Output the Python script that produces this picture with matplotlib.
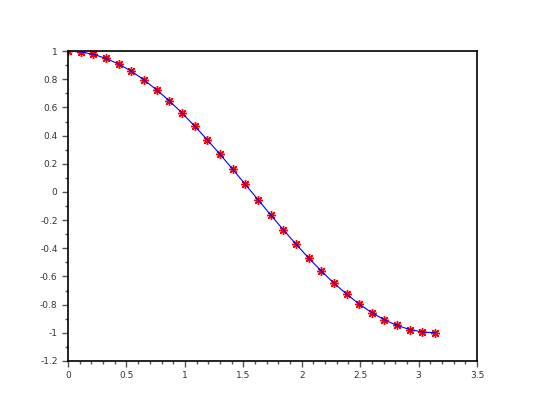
import numpy as np
import matplotlib
matplotlib.use("Agg")
import matplotlib.pyplot as plt
from matplotlib.ticker import MultipleLocator, FuncFormatter

x = [0.000, 0.108, 0.217, 0.325, 0.433, 0.542, 0.650, 0.758, 0.867, 0.975,
     1.083, 1.192, 1.300, 1.408, 1.517, 1.625, 1.733, 1.842, 1.950, 2.058,
     2.167, 2.275, 2.383, 2.492, 2.600, 2.708, 2.817, 2.925, 3.033, 3.142]
y = [1.000, 0.994, 0.977, 0.948, 0.908, 0.857, 0.796, 0.725, 0.647, 0.561,
     0.468, 0.370, 0.268, 0.162, 0.054, -0.054, -0.162, -0.268, -0.370, -0.468,
     -0.561, -0.647, -0.725, -0.796, -0.857, -0.908, -0.948, -0.977, -0.994, -1.000]

fig = plt.figure(figsize=(5.45, 4.11), dpi=100)
ax = fig.add_axes([0.1248, 0.1217, 0.7505, 0.754])

# scilab-style asterisk markers, blue line on top
ax.plot(x, y, ls="none", marker=(8, 2, 0), color="red", ms=6.5, mew=1.0, zorder=2)
ax.plot(x, y, color="blue", lw=0.8, zorder=3)

ax.set_xlim(0, 3.5)
ax.set_ylim(-1.2, 1)
ax.xaxis.set_major_locator(MultipleLocator(0.5))
ax.xaxis.set_minor_locator(MultipleLocator(0.1))
ax.yaxis.set_major_locator(MultipleLocator(0.2))
ax.yaxis.set_minor_locator(MultipleLocator(0.1))
fmt = FuncFormatter(lambda v, p: ("%g" % round(v, 2)).replace("\u2212", "-"))
ax.xaxis.set_major_formatter(fmt)
ax.yaxis.set_major_formatter(fmt)
ax.tick_params(which="both", direction="out", colors="#555555", labelsize=6.5,
               labelcolor="#333333", width=1)
ax.tick_params(which="major", length=4)
ax.tick_params(which="minor", length=2.5)
for s in ax.spines.values():
    s.set_linewidth(1.2)

plt.savefig("out.png", dpi=100)
